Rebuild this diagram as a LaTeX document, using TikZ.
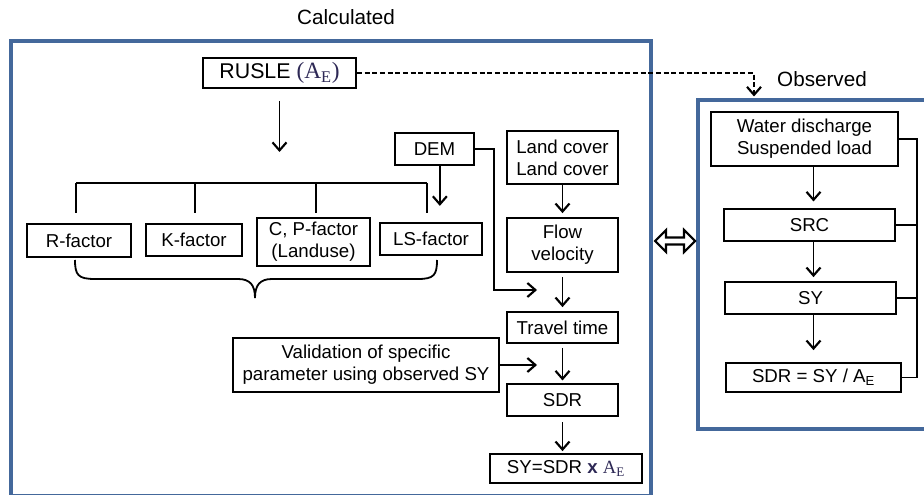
\documentclass[tikz,border=0pt]{standalone}
\usepackage{fontspec}
\setmainfont{Liberation Sans}
\newfontfamily\serifae{Liberation Serif}
\usetikzlibrary{arrows.meta}
\definecolor{panelblue}{RGB}{68,104,155}
\definecolor{aenavy}{RGB}{45,40,85}

\begin{document}
\begin{tikzpicture}[x=0.75pt,y=-0.75pt,
      box/.style={rectangle,draw,line width=1.3pt,inner sep=0pt,align=center,font=\fontsize{14}{16.5}\selectfont},
      panel/.style={rectangle,draw=panelblue,line width=2.3pt,inner sep=0pt},
      title/.style={font=\fontsize{15.5}{18}\selectfont},
      link/.style={line width=1.35pt},
      >={Straight Barb[length=6pt,width=10.5pt,line width=1.6pt]}
    ]
    \useasboundingbox (0,0) rectangle (924,495);

    \node[panel,minimum width=480pt,minimum height=341.25pt] (calc) at (331,268.5) {};
    \node[panel,minimum width=189pt,minimum height=246.75pt] (obs) at (824,264.5) {};
    \node[title] (calctitle) at (346,17) {Calculated};
    \node[title] (obstitle) at (822,79) {Observed};

    \node[box,minimum width=114.75pt,minimum height=22.5pt,font=\fontsize{16}{18}\selectfont] (rusle) at (279.5,73) {RUSLE {\serifae\fontsize{17.5}{18}\selectfont\color{aenavy}(A\textsubscript{E})}};
    \node[box,minimum width=59.25pt,minimum height=24pt] (dem) at (434.5,149) {DEM};
    \node[box,minimum width=83.25pt,minimum height=39.75pt] (land) at (562.5,157.5) {Land cover\\Land cover};
    \node[box,minimum width=83.25pt,minimum height=40.5pt] (flow) at (562.5,245) {Flow\\velocity};
    \node[box,minimum width=83.25pt,minimum height=23.25pt] (travel) at (562.5,327.5) {Travel time};
    \node[box,minimum width=199.5pt,minimum height=40.5pt] (val) at (366,365) {Validation of specific\\parameter using observed SY};
    \node[box,minimum width=83.25pt,minimum height=24pt] (sdr) at (562.5,400) {SDR};
    \node[box,minimum width=114pt,minimum height=21.75pt] (sy) at (566,468.5) {SY=SDR {\color{aenavy}\textbf{x} \serifae A\textsubscript{E}}};

    \node[box,minimum width=78pt,minimum height=24.75pt] (rf) at (79,240.5) {R-factor};
    \node[box,minimum width=72pt,minimum height=24pt] (kf) at (194,240) {K-factor};
    \node[box,minimum width=84.75pt,minimum height=36pt] (cpf) at (313.5,242) {C, P-factor\\(Landuse)};
    \node[box,minimum width=76.5pt,minimum height=24pt] (lsf) at (431,239) {LS-factor};

    \node[box,minimum width=140.25pt,minimum height=40.5pt] (water) at (804.5,139) {Water discharge\\Suspended load};
    \node[box,minimum width=128.25pt,minimum height=24pt] (src) at (809.5,225) {SRC};
    \node[box,minimum width=128.25pt,minimum height=24pt] (sy2) at (810.5,298) {SY};
    \node[box,minimum width=131.25pt,minimum height=21.75pt] (sdr2) at (813.5,377.5) {SDR = SY / A\textsubscript{E}};

    \coordinate (split) at (279.5,152);
    \coordinate (demin) at (537,290);
    \coordinate (valin) at (537,366);
    \coordinate (dashx) at (754,0);

    \draw[link,->] (rusle.south) ++(0,12) -- (split);
    \draw[link] (76,183) -- (427,183);
    \foreach \x in {76,195,316,427}
      \draw[link] (\x,183) -- (\x,213);
    \draw[link] (75,260) .. controls (75,275) and (78,279) .. (95,279) -- (238,279)
      .. controls (250,279) and (255,285) .. (255,298)
      .. controls (255,285) and (260,279) .. (272,279) -- (418,279)
      .. controls (434,279) and (437,275) .. (437,260);

    \draw[link,->] ([xshift=4pt]dem.south) -- ++(0,40);
    \draw[link,->] (dem.east) -- ++(19,0) |- (demin);
    \draw[link,->] (val.east) -- (val.east -| valin);
    \draw[link,->,shorten >=3pt] (land.south) -- (flow.north);
    \draw[link,->,shorten <=3pt,shorten >=3pt] (flow.south) -- (travel.north);
    \draw[link,->,shorten <=3pt,shorten >=2pt] (travel.south) -- (sdr.north);
    \draw[link,->,shorten <=4pt,shorten >=1.5pt] (sdr.south) -- (sdr.south |- sy.north);

    \draw[link,->,shorten >=5pt] (water.south -| sdr2) -- (src.north -| sdr2);
    \draw[link,->,shorten >=3pt] (src.south -| sdr2) -- (sy2.north -| sdr2);
    \draw[link,->,shorten >=9pt] (sy2.south -| sdr2) -- (sdr2.north);
    \draw[link] (water.east) -- ++(18,0) coordinate (rbus) |- (sdr2.east);
    \draw[link] (src.east) -- (src.east -| rbus);
    \draw[link] (sy2.east) -- (sy2.east -| rbus);

    \draw[link,dash pattern=on 3.75pt off 2pt,->,shorten >=1.5pt] (rusle.east) -| (obs.north -| dashx);

    \draw[line width=1.6pt] (655,241) -- (666,230) -- (666,237.5) -- (684,237.5) -- (684,230) -- (695,241)
      -- (684,252) -- (684,244.5) -- (666,244.5) -- (666,252) -- cycle;
  \end{tikzpicture}
\end{document}
